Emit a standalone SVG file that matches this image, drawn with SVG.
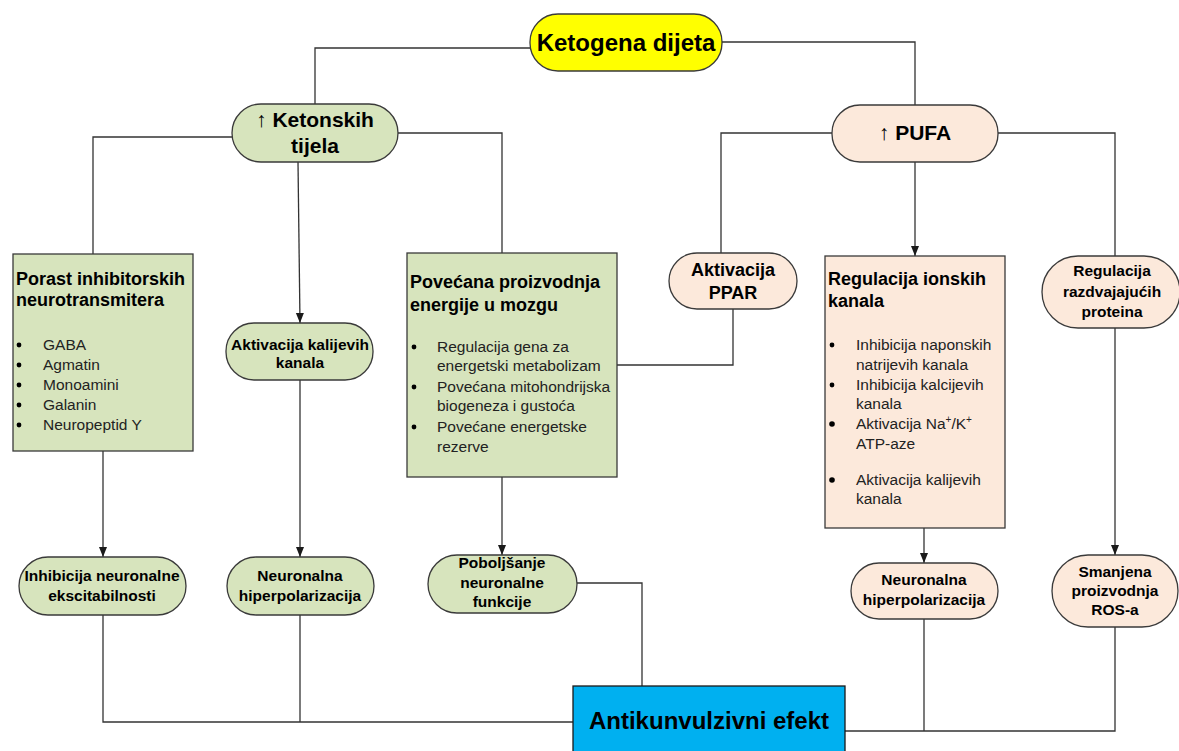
<svg xmlns="http://www.w3.org/2000/svg" width="1179" height="751" viewBox="0 0 1179 751">
<defs>
<marker id="ah" markerUnits="userSpaceOnUse" markerWidth="10" markerHeight="10" viewBox="0 0 10 10" refX="10" refY="5" orient="auto">
<path d="M0,1 L10,5 L0,9 Z" fill="#1a1a1a"/>
</marker>
<style>
.ln{fill:none;stroke:#333;stroke-width:1.3}
.g{fill:#d7e4bd;stroke:#3a3a3a;stroke-width:1.3}
.p{fill:#fce9db;stroke:#3a3a3a;stroke-width:1.3}
text{font-family:"Liberation Sans",Arial,sans-serif;fill:#000}
.b{font-weight:bold}
.c{text-anchor:middle}
.t18{font-size:18px;font-weight:bold}
.t15{font-size:15.5px;font-weight:bold}
.li{font-size:15.5px;fill:#222}
.dot{fill:#000}
</style>
</defs>
<rect width="1179" height="751" fill="#fff"/>
<g id="connectors">
<polyline class="ln" points="530,48 315,48 315,104"/>
<polyline class="ln" points="722,42 915,42 915,105"/>
<polyline class="ln" points="232,137 93,137 93,254"/>
<polyline class="ln" points="398,133 502,133 502,253"/>
<line class="ln" x1="298" y1="162" x2="300" y2="323" marker-end="url(#ah)"/>
<polyline class="ln" points="832,133 721,133 721,253"/>
<polyline class="ln" points="998,133 1115,133 1115,256"/>
<line class="ln" x1="915" y1="162" x2="915" y2="256" marker-end="url(#ah)"/>
<polyline class="ln" points="617,365 733,365 733,309"/>
<line class="ln" x1="103" y1="451" x2="103" y2="557" marker-end="url(#ah)"/>
<line class="ln" x1="300" y1="380" x2="300" y2="557" marker-end="url(#ah)"/>
<line class="ln" x1="502" y1="477" x2="502" y2="555" marker-end="url(#ah)"/>
<line class="ln" x1="924" y1="528" x2="924" y2="563" marker-end="url(#ah)"/>
<line class="ln" x1="1115" y1="328" x2="1115" y2="555" marker-end="url(#ah)"/>
<polyline class="ln" points="577,583 642,583 642,686"/>
<polyline class="ln" points="103,615 103,722 573,722"/>
<line class="ln" x1="300" y1="615" x2="300" y2="722"/>
<polyline class="ln" points="845,731 1115,731 1115,627"/>
<line class="ln" x1="924" y1="619" x2="924" y2="731"/>
</g>
<g id="ketogena">
<rect x="530" y="14" width="192" height="57" rx="28" fill="#ffff00" stroke="#3a3a3a" stroke-width="1.3"/>
<text x="626" y="51" class="b c" font-size="24">Ketogena dijeta</text>
</g>
<g id="ketonskih">
<rect class="g" x="232" y="104" width="166" height="58" rx="29"/>
<text x="315" y="127" class="b c" font-size="21">↑ Ketonskih</text>
<text x="315" y="153" class="b c" font-size="21">tijela</text>
</g>
<g id="pufa">
<rect class="p" x="832" y="105" width="166" height="57" rx="28"/>
<text x="915" y="140" class="b c" font-size="21">↑ PUFA</text>
</g>
<g id="porast">
<rect class="g" x="13" y="254" width="180" height="197"/>
<text x="16" y="285" class="t18">Porast inhibitorskih</text>
<text x="16" y="306" class="t18">neurotransmitera</text>
<circle class="dot" cx="19" cy="345" r="2.4"/><text x="43" y="350" class="li">GABA</text>
<circle class="dot" cx="19" cy="365" r="2.4"/><text x="43" y="370" class="li">Agmatin</text>
<circle class="dot" cx="19" cy="385" r="2.4"/><text x="43" y="390" class="li">Monoamini</text>
<circle class="dot" cx="19" cy="405" r="2.4"/><text x="43" y="410" class="li">Galanin</text>
<circle class="dot" cx="19" cy="425" r="2.4"/><text x="43" y="430" class="li">Neuropeptid Y</text>
</g>
<g id="aktivacija-kalijevih">
<rect class="g" x="226" y="323" width="147" height="57" rx="28"/>
<text x="300" y="350" class="t15 c">Aktivacija kalijevih</text>
<text x="300" y="368" class="t15 c">kanala</text>
</g>
<g id="povecana">
<rect class="g" x="407" y="253" width="210" height="224"/>
<text x="410" y="288" class="t18">Povećana proizvodnja</text>
<text x="410" y="311" class="t18">energije u mozgu</text>
<circle class="dot" cx="414" cy="347" r="2.4"/><text x="437" y="352" class="li">Regulacija gena za</text>
<text x="437" y="371" class="li">energetski metabolizam</text>
<circle class="dot" cx="414" cy="387" r="2.4"/><text x="437" y="392" class="li">Povećana mitohondrijska</text>
<text x="437" y="411" class="li">biogeneza i gustoća</text>
<circle class="dot" cx="414" cy="427" r="2.4"/><text x="437" y="432" class="li">Povećane energetske</text>
<text x="437" y="452" class="li">rezerve</text>
</g>
<g id="ppar">
<rect class="p" x="669" y="253" width="128" height="56" rx="28"/>
<text x="733" y="276" class="t18 c">Aktivacija</text>
<text x="733" y="299" class="t18 c">PPAR</text>
</g>
<g id="ionski">
<rect class="p" x="825" y="256" width="180" height="272"/>
<text x="828" y="285" class="t18">Regulacija ionskih</text>
<text x="828" y="307" class="t18">kanala</text>
<circle class="dot" cx="832" cy="345" r="2.4"/><text x="856" y="350" class="li">Inhibicija naponskih</text>
<text x="856" y="370" class="li">natrijevih kanala</text>
<circle class="dot" cx="832" cy="385" r="2.4"/><text x="856" y="390" class="li">Inhibicija kalcijevih</text>
<text x="856" y="409" class="li">kanala</text>
<circle class="dot" cx="832" cy="424" r="2.8"/><text x="856" y="429" class="li">Aktivacija Na<tspan font-size="10" dy="-6">+</tspan><tspan dy="6">/K</tspan><tspan font-size="10" dy="-6">+</tspan></text>
<text x="856" y="449" class="li">ATP-aze</text>
<circle class="dot" cx="832" cy="480" r="2.8"/><text x="856" y="485" class="li">Aktivacija kalijevih</text>
<text x="856" y="504" class="li">kanala</text>
</g>
<g id="razdvajajucih">
<rect class="p" x="1042" y="256" width="138" height="72" rx="36"/>
<text x="1112" y="276" class="t15 c">Regulacija</text>
<text x="1112" y="297" class="t15 c">razdvajajućih</text>
<text x="1112" y="317" class="t15 c">proteina</text>
</g>
<g id="inhibicija-neuronalne">
<rect class="g" x="19" y="557" width="167" height="58" rx="29"/>
<text x="102" y="581" class="t15 c">Inhibicija neuronalne</text>
<text x="102" y="601" class="t15 c">ekscitabilnosti</text>
</g>
<g id="hiperpolarizacija-1">
<rect class="g" x="227" y="557" width="147" height="58" rx="29"/>
<text x="300" y="581" class="t15 c">Neuronalna</text>
<text x="300" y="601" class="t15 c">hiperpolarizacija</text>
</g>
<g id="poboljsanje">
<rect class="g" x="428" y="555" width="149" height="58" rx="29"/>
<text x="502" y="568" class="t15 c">Poboljšanje</text>
<text x="502" y="588" class="t15 c">neuronalne</text>
<text x="502" y="607" class="t15 c">funkcije</text>
</g>
<g id="hiperpolarizacija-2">
<rect class="p" x="851" y="563" width="147" height="56" rx="28"/>
<text x="924" y="585" class="t15 c">Neuronalna</text>
<text x="924" y="605" class="t15 c">hiperpolarizacija</text>
</g>
<g id="ros">
<rect class="p" x="1052" y="555" width="126" height="72" rx="36"/>
<text x="1115" y="577" class="t15 c">Smanjena</text>
<text x="1115" y="596" class="t15 c">proizvodnja</text>
<text x="1115" y="615" class="t15 c">ROS-a</text>
</g>
<g id="antikunvulzivni">
<rect x="573" y="686" width="272" height="70" fill="#00b0f0" stroke="#1a1a1a" stroke-width="1.3"/>
<text x="709" y="729" class="b c" font-size="24">Antikunvulzivni efekt</text>
</g>
</svg>
